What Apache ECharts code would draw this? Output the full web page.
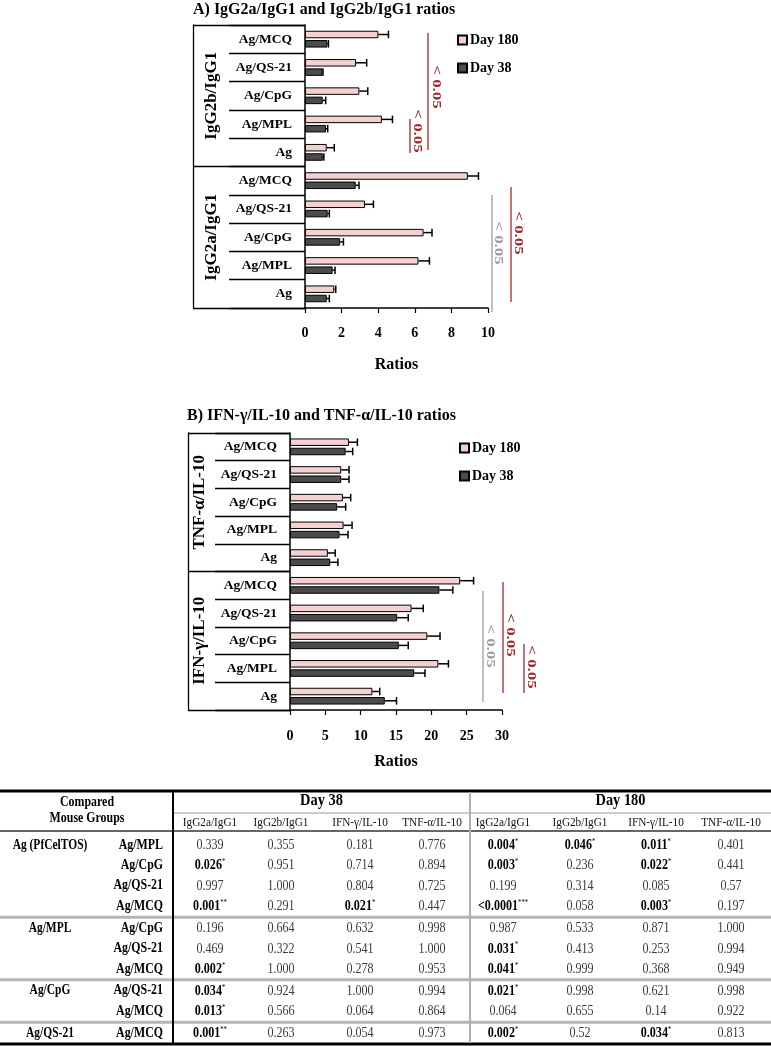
<!DOCTYPE html>
<html>
<head>
<meta charset="utf-8">
<script src="https://cdn.jsdelivr.net/npm/echarts@6/dist/echarts.min.js"></script>
<style>
html,body{margin:0;padding:0;background:#fff;}
#chart{width:771px;height:1046px;}
</style>
</head>
<body>
<div id="chart"></div>
<script>
// ---------------- DATA ----------------
const adjuvantGroups = ['Ag', 'Ag/MPL', 'Ag/CpG', 'Ag/QS-21', 'Ag/MCQ'];
const dayNames = ['Day 180', 'Day 38'];

// Panel A
const panelATitle = 'A) IgG2a/IgG1 and IgG2b/IgG1 ratios';
const panelAGroups = ['IgG2a/IgG1', 'IgG2b/IgG1'];
const panelAXTicks = [0, 2, 4, 6, 8, 10];
const igg2aDay180 = [1.60, 6.20, 6.48, 3.28, 8.90];
const igg2aDay180Err = [0.08, 0.60, 0.46, 0.46, 0.58];
const igg2aDay38 = [1.19, 1.51, 1.92, 1.24, 2.77];
const igg2aDay38Err = [0.14, 0.13, 0.18, 0.09, 0.18];
const igg2bDay180 = [1.19, 4.20, 2.97, 2.79, 4.01];
const igg2bDay180Err = [0.41, 0.58, 0.46, 0.58, 0.55];
const igg2bDay38 = [0.97, 1.15, 0.97, 0.95, 1.22];
const igg2bDay38Err = [0.06, 0.09, 0.16, 0.03, 0.06];

// Panel B
const panelBTitle = 'B) IFN-\u03b3/IL-10 and TNF-\u03b1/IL-10 ratios';
const panelBGroups = ['IFN-\u03b3/IL-10', 'TNF-\u03b1/IL-10'];
const panelBXTicks = [0, 5, 10, 15, 20, 25, 30];
const ifnDay180 = [11.66, 21.00, 19.43, 17.20, 24.08];
const ifnDay180Err = [1.04, 1.42, 1.80, 1.66, 1.90];
const ifnDay38 = [13.41, 17.58, 15.40, 15.17, 21.14];
const ifnDay38Err = [1.66, 1.52, 1.33, 1.56, 1.90];
const tnfDay180 = [5.36, 7.58, 7.49, 7.25, 8.34];
const tnfDay180Err = [1.04, 1.20, 1.10, 1.10, 1.20];
const tnfDay38 = [5.69, 7.01, 6.68, 7.25, 7.87];
const tnfDay38Err = [1.09, 1.20, 1.20, 1.10, 1.00];

const axisName = 'Ratios';
const sigText = '< 0.05';

// Table
const tableHeadLeft = ['Compared', 'Mouse Groups'];
const tableDays = ['Day 38', 'Day 180'];
const tableMeasures = ['IgG2a/IgG1', 'IgG2b/IgG1', 'IFN-\u03b3/IL-10', 'TNF-\u03b1/IL-10'];
const tableGroupA = ['Ag (PfCelTOS)', '', '', '', 'Ag/MPL', '', '', 'Ag/CpG', '', 'Ag/QS-21'];
const tableGroupB = ['Ag/MPL', 'Ag/CpG', 'Ag/QS-21', 'Ag/MCQ', 'Ag/CpG', 'Ag/QS-21', 'Ag/MCQ', 'Ag/QS-21', 'Ag/MCQ', 'Ag/MCQ'];
const d38IgG2a = ['0.339', '0.026*', '0.997', '0.001**', '0.196', '0.469', '0.002*', '0.034*', '0.013*', '0.001**'];
const d38IgG2b = ['0.355', '0.951', '1.000', '0.291', '0.664', '0.322', '1.000', '0.924', '0.566', '0.263'];
const d38Ifn = ['0.181', '0.714', '0.804', '0.021*', '0.632', '0.541', '0.278', '1.000', '0.064', '0.054'];
const d38Tnf = ['0.776', '0.894', '0.725', '0.447', '0.998', '1.000', '0.953', '0.994', '0.864', '0.973'];
const d180IgG2a = ['0.004*', '0.003*', '0.199', '<0.0001***', '0.987', '0.031*', '0.041*', '0.021*', '0.064', '0.002*'];
const d180IgG2b = ['0.046*', '0.236', '0.314', '0.058', '0.533', '0.413', '0.999', '0.998', '0.655', '0.52'];
const d180Ifn = ['0.011*', '0.022*', '0.085', '0.003*', '0.871', '0.253', '0.368', '0.621', '0.14', '0.034*'];
const d180Tnf = ['0.401', '0.441', '0.57', '0.197', '1.000', '0.994', '0.949', '0.998', '0.922', '0.813'];

// ---------------- STYLE / LAYOUT ----------------
const SERIF = 'Liberation Serif';
const PINK = '#F4D0D1';
const DARK = '#4B4B4B';
const RED = '#A3282C';
const GREY = '#9C9C9C';
const BAR_W = 7.5;
const BAR_GAP = 1.8;

const panels = [
  {
    title: panelATitle, titleLeft: 193, titleTop: 2,
    grid: {left: 305, top: 25, width: 183, height: 283},
    groups: panelAGroups, ticks: panelAXTicks,
    innerTick: 76, outerTick: 112, outerMargin: 93,
    labelMargin: 18, nameGap: 49,
    legend: {left: 457, top: 33},
    d180: [igg2aDay180, igg2bDay180], d180e: [igg2aDay180Err, igg2bDay180Err],
    d38: [igg2aDay38, igg2bDay38], d38e: [igg2aDay38Err, igg2bDay38Err]
  },
  {
    title: panelBTitle, titleLeft: 187, titleTop: 408,
    grid: {left: 290, top: 433, width: 212, height: 277},
    groups: panelBGroups, ticks: panelBXTicks,
    innerTick: 75, outerTick: 102, outerMargin: 90,
    labelMargin: 19, nameGap: 44,
    legend: {left: 459, top: 441},
    d180: [ifnDay180, tnfDay180], d180e: [ifnDay180Err, tnfDay180Err],
    d38: [ifnDay38, tnfDay38], d38e: [ifnDay38Err, tnfDay38Err]
  }
];

// significance annotations (line x, y1, y2, text x, text y, colour)
const annotations = [
  {lx: 428, y1: 33, y2: 150, tx: 436, ty: 87, c: RED},
  {lx: 410, y1: 119, y2: 153, tx: 417, ty: 131, c: RED},
  {lx: 492, y1: 195, y2: 312, tx: 498, ty: 243, c: GREY},
  {lx: 511, y1: 187, y2: 302, tx: 518, ty: 233, c: RED},
  {lx: 483, y1: 591, y2: 702, tx: 490, ty: 646, c: GREY},
  {lx: 503, y1: 582, y2: 693, tx: 510, ty: 635, c: RED},
  {lx: 524, y1: 644, y2: 693, tx: 531, ty: 667, c: RED}
];

// ---------------- BUILD ----------------
const option = {
  animation: false,
  backgroundColor: '#fff',
  title: [], legend: [], grid: [], xAxis: [], yAxis: [], series: [],
  graphic: {elements: []}
};

function errRenderer(offset) {
  return function (params, api) {
    const v = api.value(0), c = api.value(1), e = api.value(2);
    const p0 = api.coord([v, c]);
    const p1 = api.coord([v + e, c]);
    const y = p0[1] + offset;
    const st = {stroke: '#000', lineWidth: 1.5};
    return {
      type: 'group',
      children: [
        {type: 'line', shape: {x1: p0[0], y1: y, x2: p1[0], y2: y}, style: st},
        {type: 'line', shape: {x1: p1[0], y1: y - 3.8, x2: p1[0], y2: y + 3.8}, style: st}
      ]
    };
  };
}

panels.forEach(function (p, gi) {
  const ids = [];
  p.groups.forEach(function (g) { adjuvantGroups.forEach(function (a) { ids.push(g + '|' + a); }); });
  const yBase = gi * 3;
  option.title.push({
    text: p.title, left: p.titleLeft, top: p.titleTop, padding: 0,
    textStyle: {fontFamily: SERIF, fontWeight: 'bold', fontSize: 16, color: '#000'}
  });
  option.legend.push({
    left: p.legend.left, top: p.legend.top, orient: 'vertical', icon: 'rect',
    itemWidth: 9, itemHeight: 9, itemGap: 14, padding: 0, selectedMode: false,
    data: dayNames,
    textStyle: {fontFamily: SERIF, fontWeight: 'bold', fontSize: 14, color: '#000', padding: [0, 0, 0, -2]}
  });
  option.grid.push(Object.assign({containLabel: false, outerBoundsMode: 'none'}, p.grid));
  option.xAxis.push({
    type: 'value', gridIndex: gi,
    min: p.ticks[0], max: p.ticks[p.ticks.length - 1], interval: p.ticks[1] - p.ticks[0],
    name: axisName, nameLocation: 'middle', nameGap: p.nameGap,
    nameTextStyle: {fontFamily: SERIF, fontWeight: 'bold', fontSize: 16, color: '#000'},
    axisLine: {show: true, lineStyle: {color: '#000', width: 1.5}},
    axisTick: {show: true, length: 5, lineStyle: {color: '#000', width: 1.2}},
    axisLabel: {margin: p.labelMargin, fontFamily: SERIF, fontWeight: 'bold', fontSize: 14, color: '#000'},
    splitLine: {show: false}
  });
  // inner category axis
  option.yAxis.push({
    type: 'category', gridIndex: gi, data: ids, position: 'left', boundaryGap: true,
    axisLine: {show: true, lineStyle: {color: '#000', width: 1.5}},
    axisTick: {show: true, interval: 0, length: p.innerTick, lineStyle: {color: '#000', width: 1.3}},
    axisLabel: {interval: 0, margin: 13, formatter: function (v) { return v.split('|')[1]; },
      fontFamily: SERIF, fontWeight: 'bold', fontSize: 13.5, color: '#000'},
    splitLine: {show: false}
  });
  // outer group axis
  option.yAxis.push({
    type: 'category', gridIndex: gi, data: p.groups, position: 'left', boundaryGap: true,
    axisLine: {show: false},
    axisTick: {show: true, interval: 0, length: p.outerTick, lineStyle: {color: '#000', width: 1.3}},
    axisLabel: {interval: 0, rotate: 90, margin: p.outerMargin, align: 'center', verticalAlign: 'middle',
      fontFamily: SERIF, fontWeight: 'bold', fontSize: 17, color: '#000'},
    splitLine: {show: false}
  });
  // left box line
  option.yAxis.push({
    type: 'value', gridIndex: gi, position: 'left', offset: p.outerTick, min: 0, max: 1,
    axisLine: {show: true, lineStyle: {color: '#000', width: 1.3}},
    axisTick: {show: false}, axisLabel: {show: false}, splitLine: {show: false}
  });
  const v180 = p.d180[0].concat(p.d180[1]);
  const v38 = p.d38[0].concat(p.d38[1]);
  const e180 = p.d180e[0].concat(p.d180e[1]);
  const e38 = p.d38e[0].concat(p.d38e[1]);
  option.series.push({
    type: 'bar', name: dayNames[0], xAxisIndex: gi, yAxisIndex: yBase, data: v180,
    barWidth: BAR_W, barGap: (BAR_GAP / BAR_W * 100) + '%',
    itemStyle: {color: PINK, borderColor: '#000', borderWidth: 1}
  });
  option.series.push({
    type: 'bar', name: dayNames[1], xAxisIndex: gi, yAxisIndex: yBase, data: v38,
    barWidth: BAR_W, barGap: (BAR_GAP / BAR_W * 100) + '%',
    itemStyle: {color: DARK, borderColor: '#000', borderWidth: 1}
  });
  const off = (BAR_W + BAR_GAP) / 2;
  option.series.push({
    type: 'custom', xAxisIndex: gi, yAxisIndex: yBase, silent: true, z: 5,
    encode: {x: 0, y: 1},
    data: v180.map(function (v, i) { return [v, i, e180[i]]; }),
    renderItem: errRenderer(-off)
  });
  option.series.push({
    type: 'custom', xAxisIndex: gi, yAxisIndex: yBase, silent: true, z: 5,
    encode: {x: 0, y: 1},
    data: v38.map(function (v, i) { return [v, i, e38[i]]; }),
    renderItem: errRenderer(off)
  });
});

const els = option.graphic.elements;
function gLine(x1, y1, x2, y2, color, w) {
  els.push({type: 'line', silent: true, shape: {x1: x1, y1: y1, x2: x2, y2: y2}, style: {stroke: color, lineWidth: w}});
}
function gText(x, y, text, o) {
  els.push({
    type: 'text', silent: true, x: x, y: y, rotation: o.rotation || 0, scaleX: o.scaleX || 1,
    style: {
      text: text, fill: o.color || '#000', fontFamily: SERIF, fontSize: o.size,
      fontWeight: o.weight || 'normal', align: o.align || 'center', verticalAlign: 'middle'
    }
  });
}

// annotations
annotations.forEach(function (a) {
  gLine(a.lx, a.y1, a.lx, a.y2, a.c, 1.3);
  gText(a.tx, a.ty, sigText, {size: 13, weight: 'bold', color: a.c, rotation: -Math.PI / 2, scaleX: 1.3});
});

// table
const TB = {top: 791, bottom: 1044, vx1: 173, vx2: 470, right: 771, dayLine: 813, subLine: 831,
  row0: 845, rowH: 20.4, grpExtra: 1.5,
  colA: 50, colB: 163, d38x: [210, 281, 360, 432], d180x: [503, 580, 656, 731],
  headY1: 802, headY2: 818, dayY: 801, subY: 823};

const tableCols = [d38IgG2a, d38IgG2b, d38Ifn, d38Tnf, d180IgG2a, d180IgG2b, d180Ifn, d180Tnf];
const colX = TB.d38x.concat(TB.d180x);

let grp = -1;
const rowY = [];
tableGroupB.forEach(function (b, r) {
  if (tableGroupA[r] !== '') grp++;
  rowY.push(TB.row0 + r * TB.rowH + grp * TB.grpExtra);
});

// lines
gLine(0, TB.top, TB.right, TB.top, '#000', 3);
gLine(0, TB.bottom, TB.right, TB.bottom, '#000', 3);
gLine(TB.vx1, TB.dayLine, TB.right, TB.dayLine, '#9a9a9a', 1);
gLine(0, TB.subLine, TB.right, TB.subLine, '#333', 1.6);
tableGroupA.forEach(function (a, r) {
  if (r > 0 && a !== '') {
    const y = (rowY[r - 1] + rowY[r]) / 2;
    gLine(0, y, TB.right, y, '#b5b5b5', 3);
  }
});
gLine(TB.vx1, TB.top, TB.vx1, TB.bottom, '#000', 2);
gLine(TB.vx2, TB.top + 1, TB.vx2, TB.bottom - 1, '#b0b0b0', 2);

// header texts
gText(87, TB.headY1, tableHeadLeft[0], {size: 14, weight: 'bold', scaleX: 0.85});
gText(87, TB.headY2, tableHeadLeft[1], {size: 14, weight: 'bold', scaleX: 0.85});
gText((TB.vx1 + TB.vx2) / 2, TB.dayY, tableDays[0], {size: 16, weight: 'bold', scaleX: 0.9});
gText((TB.vx2 + TB.right) / 2, TB.dayY, tableDays[1], {size: 16, weight: 'bold', scaleX: 0.9});
colX.forEach(function (x, i) {
  gText(x, TB.subY, tableMeasures[i % 4], {size: 12.5, scaleX: 0.9, color: '#111'});
});

// row labels
tableGroupB.forEach(function (b, r) {
  if (tableGroupA[r] !== '') gText(TB.colA, rowY[r], tableGroupA[r], {size: 14, weight: 'bold', scaleX: 0.82});
  gText(TB.colB, rowY[r], b, {size: 14, weight: 'bold', scaleX: 0.85, align: 'right'});
});

// values
tableCols.forEach(function (col, c) {
  col.forEach(function (s, r) {
    const m = s.match(/^(.*?)(\**)$/);
    const num = m[1], stars = m[2];
    if (stars) {
      els.push({
        type: 'text', silent: true, x: colX[c], y: rowY[r], scaleX: 0.78,
        style: {
          text: '{b|' + num + '}{s|' + stars + '}', align: 'center', verticalAlign: 'middle',
          rich: {
            b: {fontFamily: SERIF, fontSize: 15.5, fontWeight: 'bold', fill: '#000', lineHeight: 16},
            s: {fontFamily: SERIF, fontSize: 8.5, fill: '#000', verticalAlign: 'top', lineHeight: 16}
          }
        }
      });
    } else {
      gText(colX[c], rowY[r], num, {size: 15.5, scaleX: 0.78, color: '#3a3a3a'});
    }
  });
});

const chart = echarts.init(document.getElementById('chart'), null, {renderer: 'canvas', width: 771, height: 1046});
chart.setOption(option);
</script>
</body>
</html>
